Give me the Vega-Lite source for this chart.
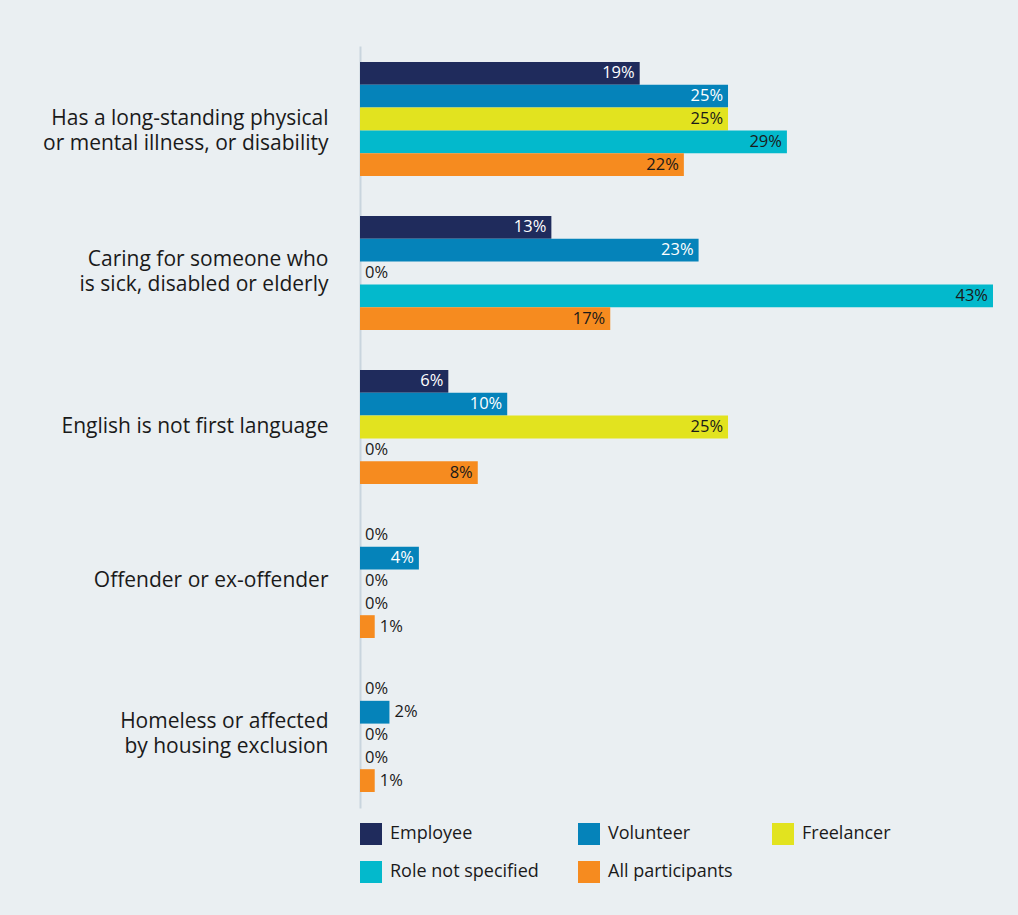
{
  "$schema": "https://vega.github.io/schema/vega-lite/v6.json",
  "autosize": "none",
  "width": 633,
  "height": 762,
  "padding": {"left": 360, "top": 46, "right": 25, "bottom": 107},
  "background": "#eaeff2",
  "config": {
    "font": "Open Sans",
    "view": {"stroke": null},
    "axis": {"labelFont": "Open Sans", "labelColor": "#1a1a1a"},
    "legend": {"labelFont": "Open Sans"}
  },
  "data": {
    "values": [
      {"category": "Has a long-standing physical|or mental illness, or disability", "role": "Employee", "value": 19},
      {"category": "Has a long-standing physical|or mental illness, or disability", "role": "Volunteer", "value": 25},
      {"category": "Has a long-standing physical|or mental illness, or disability", "role": "Freelancer", "value": 25},
      {"category": "Has a long-standing physical|or mental illness, or disability", "role": "Role not specified", "value": 29},
      {"category": "Has a long-standing physical|or mental illness, or disability", "role": "All participants", "value": 22},
      {"category": "Caring for someone who|is sick, disabled or elderly", "role": "Employee", "value": 13},
      {"category": "Caring for someone who|is sick, disabled or elderly", "role": "Volunteer", "value": 23},
      {"category": "Caring for someone who|is sick, disabled or elderly", "role": "Freelancer", "value": 0},
      {"category": "Caring for someone who|is sick, disabled or elderly", "role": "Role not specified", "value": 43},
      {"category": "Caring for someone who|is sick, disabled or elderly", "role": "All participants", "value": 17},
      {"category": "English is not first language", "role": "Employee", "value": 6},
      {"category": "English is not first language", "role": "Volunteer", "value": 10},
      {"category": "English is not first language", "role": "Freelancer", "value": 25},
      {"category": "English is not first language", "role": "Role not specified", "value": 0},
      {"category": "English is not first language", "role": "All participants", "value": 8},
      {"category": "Offender or ex-offender", "role": "Employee", "value": 0},
      {"category": "Offender or ex-offender", "role": "Volunteer", "value": 4},
      {"category": "Offender or ex-offender", "role": "Freelancer", "value": 0},
      {"category": "Offender or ex-offender", "role": "Role not specified", "value": 0},
      {"category": "Offender or ex-offender", "role": "All participants", "value": 1},
      {"category": "Homeless or affected|by housing exclusion", "role": "Employee", "value": 0},
      {"category": "Homeless or affected|by housing exclusion", "role": "Volunteer", "value": 2},
      {"category": "Homeless or affected|by housing exclusion", "role": "Freelancer", "value": 0},
      {"category": "Homeless or affected|by housing exclusion", "role": "Role not specified", "value": 0},
      {"category": "Homeless or affected|by housing exclusion", "role": "All participants", "value": 1}
    ]
  },
  "transform": [{"calculate": "datum.value + '%'", "as": "label"}],
  "encoding": {
    "y": {
      "field": "category",
      "type": "nominal",
      "sort": null,
      "scale": {"paddingInner": 0.26, "paddingOuter": 0.104},
      "axis": {
        "title": null,
        "ticks": false,
        "domain": true,
        "domainColor": "#c9d5de",
        "domainWidth": 2,
        "labelFontSize": 21,
        "labelPadding": 32,
        "labelLineHeight": 25,
        "labelLimit": 400,
        "labelOffset": {"condition": {"test": "indexof(datum.value, 'Caring') >= 0 || indexof(datum.value, 'Homeless') >= 0", "value": -13}, "value": 0},
        "labelExpr": "split(datum.label, '|')"
      }
    },
    "yOffset": {
      "field": "role",
      "type": "nominal",
      "sort": ["Employee", "Volunteer", "Freelancer", "Role not specified", "All participants"],
      "scale": {"paddingInner": 0, "paddingOuter": 0}
    },
    "x": {
      "field": "value",
      "type": "quantitative",
      "scale": {"domain": [0, 43], "nice": false},
      "axis": null
    }
  },
  "layer": [
    {
      "mark": {"type": "bar"},
      "encoding": {
        "color": {
          "field": "role",
          "type": "nominal",
          "sort": ["Employee", "Volunteer", "Freelancer", "Role not specified", "All participants"],
          "scale": {
            "domain": ["Employee", "Volunteer", "Freelancer", "Role not specified", "All participants"],
            "range": ["#1f2b5c", "#0583ba", "#e2e31f", "#03b9cc", "#f68b1f"]
          },
          "legend": {
            "title": null,
            "orient": "bottom",
            "direction": "horizontal",
            "columns": 3,
            "gridAlign": "each",
            "symbolType": "square",
            "symbolSize": 484,
            "symbolStrokeWidth": 0,
            "symbolOpacity": 1,
            "labelFontSize": 18,
            "labelColor": "#1a1a1a",
            "labelOffset": 8,
            "columnPadding": 39,
            "rowPadding": 16,
            "offset": 15,
            "padding": 0
          }
        }
      }
    },
    {
      "transform": [{"filter": "datum.value >= 4"}],
      "mark": {"type": "text", "align": "right", "baseline": "middle", "dx": -5, "fontSize": 16.5},
      "encoding": {
        "text": {"field": "label", "type": "nominal"},
        "color": {
          "condition": {"test": "datum.role === 'Employee' || datum.role === 'Volunteer'", "value": "#ffffff"},
          "value": "#1a1a1a"
        }
      }
    },
    {
      "transform": [{"filter": "datum.value < 4"}],
      "mark": {"type": "text", "align": "left", "baseline": "middle", "dx": 5, "fontSize": 16.5, "color": "#1a1a1a"},
      "encoding": {
        "text": {"field": "label", "type": "nominal"}
      }
    }
  ]
}
